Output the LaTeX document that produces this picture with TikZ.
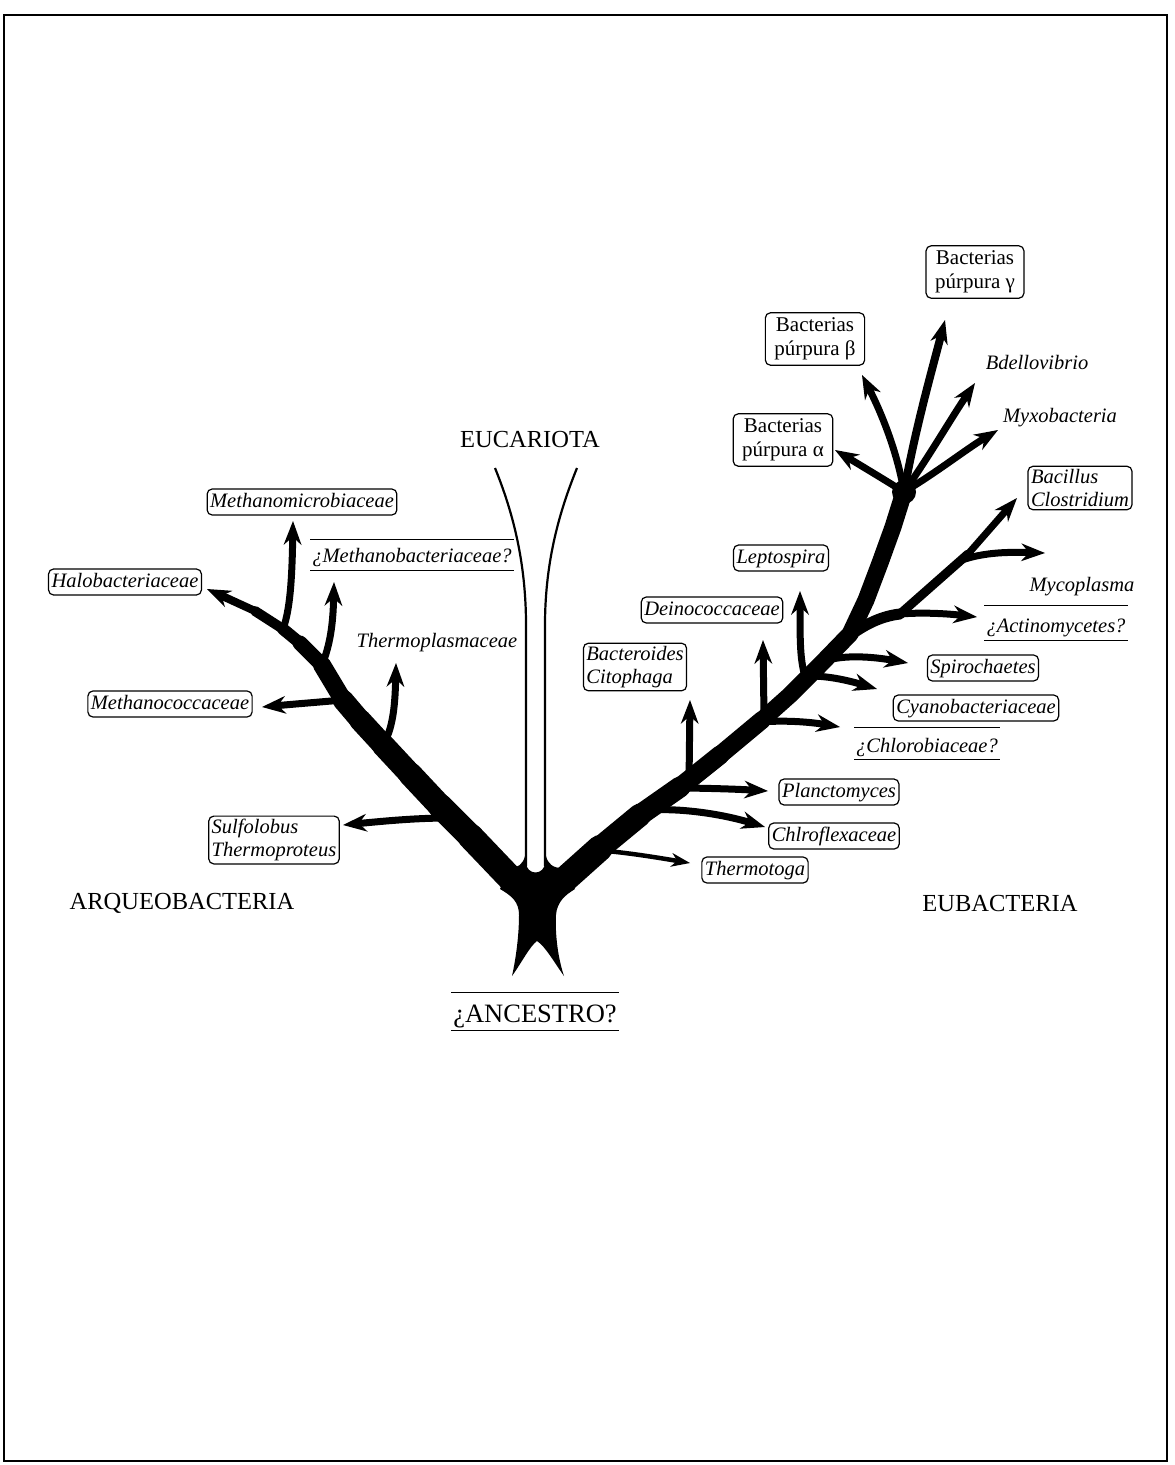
\documentclass[tikz,border=0pt]{standalone}
\usepackage{fontspec}
\setmainfont{Liberation Serif}
\usetikzlibrary{arrows.meta}
\begin{document}
\begin{tikzpicture}[x=1pt,y=-1pt,
  lab/.style={font=\fontsize{20.5}{23}\selectfont\itshape, inner sep=2pt},
  bx/.style={lab, draw, rounded corners=5pt, line width=1.2pt, inner xsep=3pt, inner ysep=3pt, text height=15pt, text depth=5pt},
  bxtwo/.style={lab, draw, rounded corners=5pt, line width=1.2pt, inner sep=3pt, align=left},
  rbx/.style={draw, rounded corners=5pt, line width=1.2pt, font=\fontsize{21}{24}\selectfont, align=center, inner xsep=9pt, inner ysep=5pt},
  big/.style={font=\fontsize{24.5}{28}\selectfont, inner sep=0pt},
  barred/.style={lab, inner xsep=2pt, inner ysep=0pt},
  bar/.style={line width=1.3pt},
  seg/.style={line width=#1, line cap=round, line join=round},
  tip/.style={-{Stealth[length=24pt,width=18pt,inset=8pt,line width=0pt]}},
  br/.style={seg=7pt, tip},
  brthin/.style={seg=4.5pt, -{Stealth[length=19pt,width=14pt,inset=6pt,line width=0pt]}},
]
\useasboundingbox (0,0) rectangle (1175,1465);
\draw[line width=2.5pt] (4,15) rectangle (1167,1461);

% ---------------- coordinates ----------------
% left trunk
\coordinate (L0) at (512,880);
\coordinate (L1) at (470,836);
\coordinate (L2) at (440,806);
\coordinate (L3) at (410,774);
\coordinate (L4) at (383,745);
\coordinate (L5) at (360,720);
\coordinate (L6) at (343,700);
\coordinate (L7) at (322,665);
\coordinate (L8) at (300,643);
\coordinate (L9) at (283,629);
\coordinate (L10) at (255,611);
\coordinate (tHalo) at (207,589);
\coordinate (bSulf) at (450,818);
\coordinate (tSulf) at (343,825);
\coordinate (tTpla) at (396,663);
\coordinate (tMcoc) at (262,707);
\coordinate (tMbac) at (334,582);
\coordinate (tMmic) at (293,521);
% right trunk
\coordinate (R0) at (562,882);
\coordinate (R1) at (600,848);
\coordinate (R2) at (640,815);
\coordinate (R3) at (680,787);
\coordinate (R4) at (720,755);
\coordinate (R5) at (762,720);
\coordinate (R6) at (790,695);
\coordinate (R7) at (818,667);
\coordinate (R8) at (850,634);
\coordinate (R9) at (866,600);
\coordinate (R10) at (880,563);
\coordinate (R11) at (893,527);
\coordinate (J) at (904,492);
\coordinate (bTtog) at (606,851);
\coordinate (tTtog) at (690,863);
\coordinate (bChlf) at (650,810);
\coordinate (tChlf) at (765,827);
\coordinate (bPlan) at (677,788);
\coordinate (tPlan) at (768,791);
\coordinate (bBact) at (689,782);
\coordinate (tBact) at (690,700);
\coordinate (bChlb) at (760,722);
\coordinate (tChlb) at (840,727);
\coordinate (bDein) at (764,716);
\coordinate (tDein) at (763,640);
\coordinate (bCyan) at (810,676);
\coordinate (tCyan) at (877,689);
\coordinate (bLept) at (805,676);
\coordinate (tLept) at (800,591);
\coordinate (bSpir) at (828,660);
\coordinate (tSpir) at (908,663);
\coordinate (bAct) at (848,637);
\coordinate (sAct) at (900,614);
\coordinate (tActi) at (977,617);
\coordinate (mBaci) at (968,554);
\coordinate (tBaci) at (1017,498);
\coordinate (bMyco) at (962,560);
\coordinate (tMyco) at (1045,553);
\coordinate (tPa) at (835,450);
\coordinate (tPb) at (862,375);
\coordinate (tPg) at (945,320);
\coordinate (tBd) at (975,383);
\coordinate (tMx) at (998,430);

% ---------------- root blob ----------------
\fill (500,889) .. controls (512,896) and (519,902) .. (519,915)
  .. controls (519,935) and (516,958) .. (512,976)
  .. controls (522,962) and (530,946) .. (537,941)
  .. controls (545,946) and (554,962) .. (564,976)
  .. controls (558,958) and (555,935) .. (556,915)
  .. controls (557,902) and (565,895) .. (575,889)
  -- (562,868)
  .. controls (553,868) and (548,864) .. (546,856)
  -- (545,862)
  .. controls (545,876) and (526,876) .. (526,862)
  -- (525,856)
  .. controls (523,864) and (518,868) .. (510,868)
  -- cycle;
% eukaryote tube
\draw[line width=2.2pt] (495,468) .. controls (512,510) and (526,560) .. (526,625) -- (526,866);
\draw[line width=2.2pt] (577,468) .. controls (560,510) and (545,560) .. (545,625) -- (545,866);

% ---------------- left trunk (archaea) ----------------
\draw[seg=26pt] (L0) -- (L1);
\draw[seg=25pt] (L1) -- (L2);
\draw[seg=24pt] (L2) -- (L3);
\draw[seg=23pt] (L3) -- (L4);
\draw[seg=22pt] (L4) -- (L5);
\draw[seg=21pt] (L5) -- (L6);
\draw[seg=18pt] (L6) -- (L7);
\draw[seg=15pt] (L7) -- (L8);
\draw[seg=12pt] (L8) -- (L9);
\draw[seg=10pt] (L9) -- (L10);
\draw[br, line width=8pt] (L10) -- (tHalo);
\draw[br] (bSulf) .. controls (420,818) and (395,820) .. (tSulf);
\draw[br] (L4) .. controls (392,730) and (395,710) .. (tTpla);
\draw[br] (L6) .. controls (320,702) and (295,704) .. (tMcoc);
\draw[br] (L7) .. controls (330,645) and (333,625) .. (tMbac);
\draw[br] (L9) .. controls (290,610) and (292,580) .. (tMmic);

% ---------------- right trunk (bacteria) ----------------
\draw[seg=26pt] (R0) -- (R1);
\draw[seg=23pt] (R1) -- (R2);
\draw[seg=21pt] (R2) -- (R3);
\draw[seg=19pt] (R3) -- (R4);
\draw[seg=18pt] (R4) -- (R5);
\draw[seg=17pt] (R5) -- (R6) -- (R7) -- (R8) -- (R9) -- (R10) -- (R11) -- (J);
\fill (J) circle (12pt);
\draw[brthin] (bTtog) .. controls (630,853) and (660,858) .. (tTtog);
\draw[br] (bChlf) .. controls (685,808) and (725,815) .. (tChlf);
\draw[br] (bPlan) .. controls (700,788) and (735,789) .. (tPlan);
\draw[br] (bBact) -- (tBact);
\draw[br] (bChlb) .. controls (785,720) and (810,722) .. (tChlb);
\draw[br] (bDein) -- (tDein);
\draw[br] (bCyan) .. controls (830,676) and (850,681) .. (tCyan);
\draw[br] (bLept) .. controls (800,660) and (800,640) .. (tLept);
\draw[br] (bSpir) .. controls (850,654) and (880,658) .. (tSpir);
\draw[seg=11pt] (bAct) .. controls (865,624) and (882,616) .. (sAct);
\draw[br] (sAct) .. controls (925,612) and (950,614) .. (tActi);
\draw[seg=9pt] (sAct) -- (mBaci);
\draw[br] (mBaci) -- (tBaci);
\draw[br] (bMyco) .. controls (985,552) and (1010,552) .. (tMyco);
\draw[br] (J) .. controls (885,480) and (860,465) .. (tPa);
\draw[br] (J) .. controls (897,450) and (880,410) .. (tPb);
\draw[br, line width=8pt] (J) .. controls (915,430) and (932,370) .. (tPg);
\draw[br] (J) .. controls (930,455) and (950,420) .. (tBd);
\draw[br] (J) .. controls (940,470) and (965,450) .. (tMx);

% ---------------- labels ----------------
\node[big] (euc) at (530,440) {EUCARIOTA};
\node[big] (arq) at (182,903) {ARQUEOBACTERIA};
\node[big] (eub) at (1000,903) {EUBACTERIA};
\node[font=\fontsize{26.5}{30}\selectfont, inner xsep=2pt, inner ysep=0pt, text height=29pt, text depth=8pt] (anc) at (535,1011.5) {¿ANCESTRO?};
\draw[bar] (anc.north west) -- (anc.north east) (anc.south west) -- (anc.south east);

\node[bx] (mmic) at (302,502) {Methanomicrobiaceae};
\node[barred, text height=22pt, text depth=8pt] (mbac) at (412,555) {¿Methanobacteriaceae?};
\draw[bar] (mbac.north west) -- (mbac.north east) (mbac.south west) -- (mbac.south east);
\node[bx] (halo) at (125,582) {Halobacteriaceae};
\node[lab] (tpla) at (437,643) {Thermoplasmaceae};
\node[bx] (mcoc) at (170,704) {Methanococcaceae};
\node[bxtwo] (sulf) at (274,840) {Sulfolobus\\Thermoproteus};

\node[rbx] (pg) at (975,272) {Bacterias\\púrpura γ};
\node[rbx] (pb) at (815,339) {Bacterias\\púrpura β};
\node[rbx] (pa) at (783,440) {Bacterias\\púrpura α};
\node[lab] (bdel) at (1037,362) {Bdellovibrio};
\node[lab] (myxo) at (1060,418) {Myxobacteria};
\node[bxtwo] (baci) at (1080,488) {Bacillus\\Clostridium};
\node[bx] (lept) at (781,558) {Leptospira};
\node[lab] (mycp) at (1082,587) {Mycoplasma};
\node[barred, text height=26pt, text depth=8pt] (acti) at (1056,623) {¿Actinomycetes?};
\draw[bar] (acti.north west) -- (acti.north east) (acti.south west) -- (acti.south east);
\node[bx] (dein) at (712,610) {Deinococcaceae};
\node[bxtwo] (bact) at (635,667) {Bacteroides\\Citophaga};
\node[bx] (spir) at (983,668) {Spirochaetes};
\node[bx] (cyan) at (976,708) {Cyanobacteriaceae};
\node[barred, text height=24pt, text depth=7pt] (chlb) at (927,743.5) {¿Chlorobiaceae?};
\draw[bar] (chlb.north west) -- (chlb.north east) (chlb.south west) -- (chlb.south east);
\node[bx] (plan) at (839,792) {Planctomyces};
\node[bx] (chlf) at (834,836) {Chlroflexaceae};
\node[bx] (ttog) at (755,870) {Thermotoga};
\end{tikzpicture}
\end{document}
